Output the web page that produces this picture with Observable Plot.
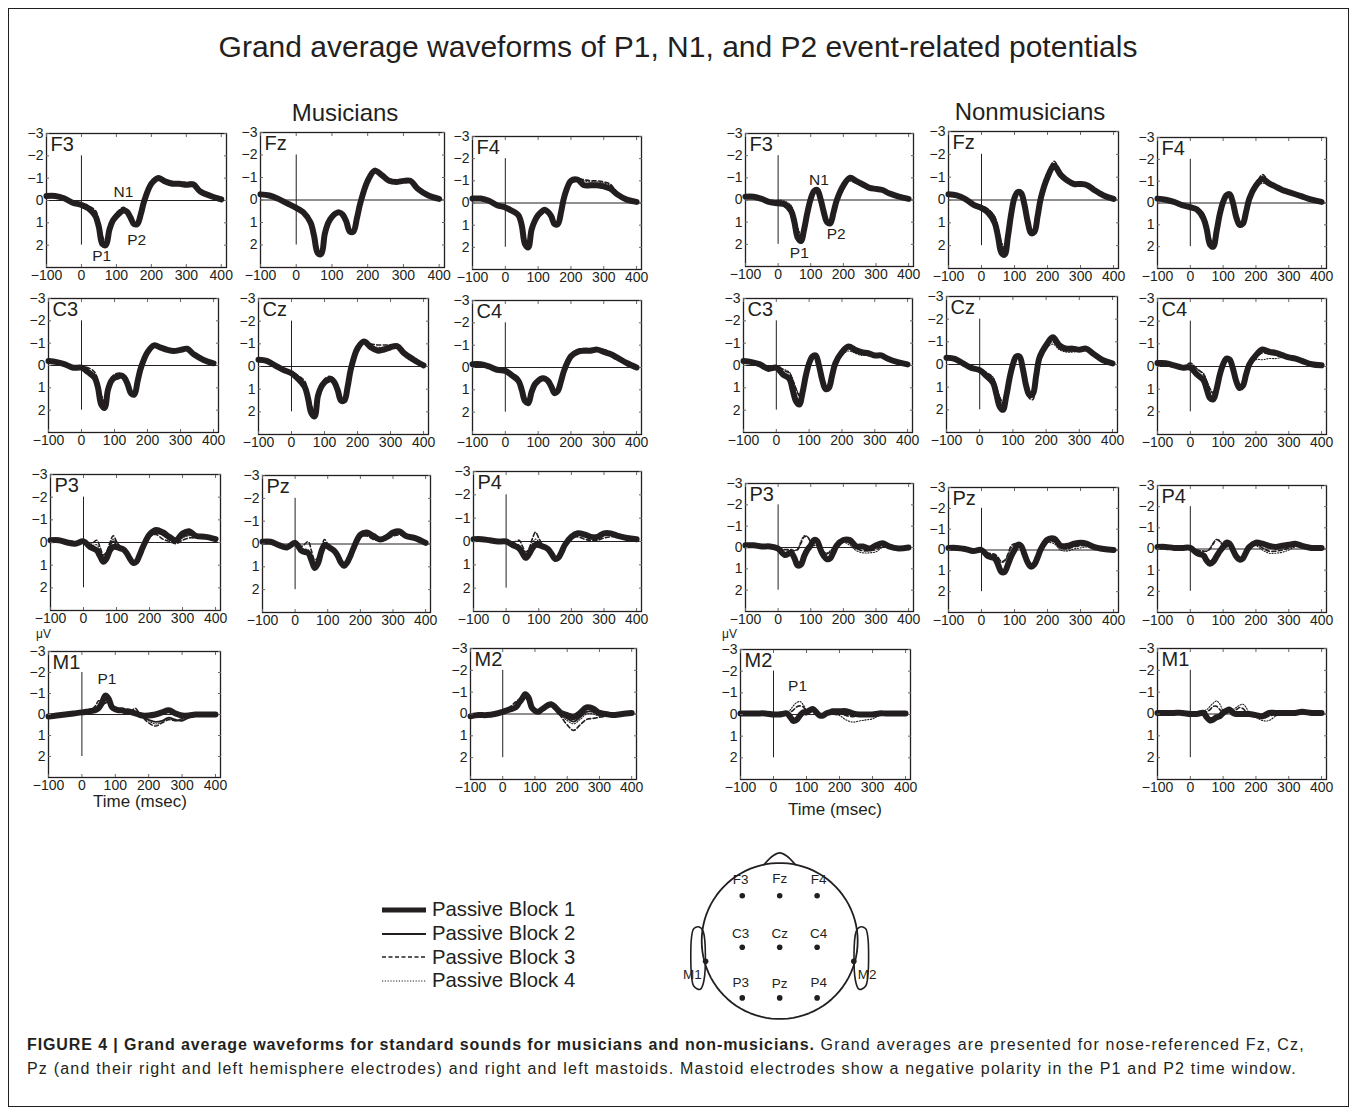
<!DOCTYPE html>
<html><head><meta charset="utf-8">
<script src="https://cdn.jsdelivr.net/npm/d3@7"></script>
<script src="https://cdn.jsdelivr.net/npm/@observablehq/plot@0.6"></script>
<style>
body{margin:0;background:#fff;font-family:"Liberation Sans",Arial,Helvetica,sans-serif;color:#231f20}
#fig{position:relative;width:1356px;height:1114px;overflow:hidden;background:#fff}
.abs{position:absolute;white-space:nowrap;line-height:1}
#frame{position:absolute;left:8px;top:8px;width:1341px;height:1099px;border:1px solid #231f20;box-sizing:border-box}
.caption{position:absolute;left:27px;font-size:16px;letter-spacing:1.2px;color:#231f20;white-space:nowrap;line-height:1}
.caption b{letter-spacing:0.9px}
</style></head>
<body><div id="fig"><div id="frame"></div></div>
<script>
// ---------- DATA ----------
const times = [-100,-75,-50,-25,0,20,40,50,60,70,80,90,100,110,120,130,140,150,160,170,180,200,220,240,260,280,300,320,340,370,400];
const xTicks = [-100,0,100,200,300,400];
const yTicks = [-3,-2,-1,0,1,2];
const blockNames = ["Passive Block 1","Passive Block 2","Passive Block 3","Passive Block 4"];

// Musicians (each: [block1, block2, block3, block4], µV, positive = down)
const musF3 = [
 [-0.2,-0.2,-0.1,0.1,0.2,0.35,0.7,1.2,1.95,2.0,1.3,0.9,0.7,0.55,0.45,0.5,0.75,1.05,1.05,0.6,0.0,-0.75,-1.0,-0.85,-0.75,-0.75,-0.7,-0.72,-0.4,-0.2,-0.05],
 [-0.2,-0.2,-0.1,0.1,0.2,0.3,0.6,1.1,1.8,1.9,1.25,0.85,0.65,0.5,0.4,0.45,0.7,1.0,1.0,0.55,-0.05,-0.8,-1.05,-0.9,-0.8,-0.75,-0.75,-0.75,-0.45,-0.2,-0.05],
 [-0.2,-0.2,-0.1,0.1,0.15,0.25,0.45,0.9,1.6,1.85,1.3,0.8,0.55,0.4,0.3,0.4,0.7,1.0,1.0,0.5,-0.1,-0.85,-1.1,-0.9,-0.85,-0.8,-0.8,-0.8,-0.5,-0.25,-0.05],
 [-0.2,-0.2,-0.1,0.1,0.15,0.3,0.55,1.0,1.7,1.9,1.3,0.85,0.6,0.45,0.35,0.45,0.7,1.0,1.0,0.5,-0.1,-0.85,-1.1,-0.95,-0.85,-0.8,-0.8,-0.75,-0.45,-0.25,-0.05]];
const musFz = [
 [-0.25,-0.2,-0.05,0.15,0.35,0.55,1.0,1.6,2.35,2.4,1.5,1.0,0.75,0.6,0.55,0.65,0.95,1.4,1.4,0.8,0.1,-0.85,-1.3,-1.1,-0.85,-0.8,-0.85,-0.85,-0.5,-0.2,-0.05],
 [-0.25,-0.2,-0.05,0.15,0.3,0.5,0.9,1.5,2.2,2.3,1.45,0.95,0.7,0.55,0.5,0.6,0.9,1.35,1.35,0.75,0.05,-0.9,-1.3,-1.1,-0.9,-0.85,-0.85,-0.85,-0.5,-0.2,-0.05],
 [-0.25,-0.2,-0.05,0.15,0.3,0.45,0.85,1.4,2.1,2.3,1.5,0.95,0.7,0.55,0.5,0.6,0.9,1.3,1.3,0.7,0.0,-0.95,-1.4,-1.15,-0.95,-0.9,-0.9,-0.9,-0.55,-0.25,-0.05],
 [-0.25,-0.2,-0.05,0.15,0.3,0.5,0.9,1.45,2.2,2.35,1.5,0.95,0.7,0.55,0.5,0.6,0.9,1.35,1.35,0.75,0.05,-0.9,-1.35,-1.1,-0.9,-0.85,-0.9,-0.85,-0.5,-0.2,-0.05]];
const musF4 = [
 [-0.2,-0.2,-0.1,0.1,0.2,0.35,0.55,1.0,1.85,2.0,1.2,0.8,0.55,0.4,0.3,0.4,0.6,0.95,0.95,0.4,-0.3,-1.0,-1.05,-0.8,-0.8,-0.8,-0.75,-0.65,-0.4,-0.15,-0.05],
 [-0.2,-0.2,-0.1,0.1,0.2,0.3,0.5,0.95,1.75,1.9,1.2,0.8,0.5,0.35,0.3,0.4,0.6,1.0,1.0,0.45,-0.2,-0.9,-1.0,-0.85,-0.8,-0.8,-0.75,-0.65,-0.4,-0.15,-0.05],
 [-0.2,-0.2,-0.1,0.1,0.2,0.3,0.5,0.9,1.7,1.9,1.2,0.8,0.5,0.35,0.3,0.4,0.65,1.05,1.0,0.4,-0.2,-0.9,-1.1,-1.05,-1.0,-1.0,-0.95,-0.85,-0.5,-0.2,-0.05],
 [-0.2,-0.2,-0.1,0.1,0.2,0.3,0.5,0.95,1.75,1.95,1.2,0.8,0.5,0.35,0.3,0.4,0.6,1.0,1.0,0.45,-0.25,-0.95,-1.1,-1.0,-0.95,-0.95,-0.9,-0.8,-0.5,-0.2,-0.05]];
const musC3 = [
 [-0.2,-0.15,-0.05,0.1,0.1,0.3,0.55,1.0,1.75,1.9,1.1,0.7,0.55,0.5,0.45,0.55,0.85,1.25,1.3,0.7,0.1,-0.6,-0.9,-0.8,-0.7,-0.65,-0.7,-0.75,-0.5,-0.25,-0.1],
 [-0.2,-0.15,-0.05,0.1,0.1,0.25,0.45,0.9,1.6,1.8,1.05,0.65,0.5,0.45,0.4,0.5,0.85,1.25,1.3,0.7,0.05,-0.65,-0.9,-0.8,-0.7,-0.65,-0.7,-0.75,-0.5,-0.25,-0.1],
 [-0.2,-0.15,-0.05,0.1,0.05,0.1,0.3,0.7,1.35,1.6,1.0,0.55,0.4,0.35,0.35,0.45,0.8,1.2,1.25,0.65,0.0,-0.7,-0.95,-0.85,-0.75,-0.7,-0.75,-0.8,-0.55,-0.3,-0.1],
 [-0.2,-0.15,-0.05,0.1,0.1,0.2,0.4,0.8,1.5,1.7,1.05,0.6,0.45,0.4,0.4,0.5,0.8,1.2,1.25,0.65,0.0,-0.7,-0.95,-0.85,-0.75,-0.7,-0.7,-0.75,-0.5,-0.25,-0.1]];
const musCz = [
 [-0.3,-0.25,-0.05,0.15,0.3,0.55,0.9,1.4,2.05,2.2,1.3,0.9,0.7,0.6,0.55,0.7,1.05,1.5,1.5,0.9,0.1,-0.8,-1.1,-0.85,-0.7,-0.75,-0.85,-0.9,-0.6,-0.3,-0.05],
 [-0.3,-0.25,-0.05,0.15,0.3,0.5,0.8,1.3,1.9,2.1,1.3,0.85,0.65,0.55,0.5,0.65,1.0,1.45,1.5,0.85,0.05,-0.85,-1.1,-0.9,-0.75,-0.8,-0.85,-0.9,-0.6,-0.3,-0.05],
 [-0.3,-0.25,-0.05,0.15,0.25,0.4,0.65,1.1,1.7,2.0,1.3,0.8,0.55,0.45,0.45,0.6,1.0,1.45,1.5,0.85,0.0,-0.9,-1.15,-1.0,-0.95,-0.95,-0.95,-0.95,-0.65,-0.3,-0.05],
 [-0.3,-0.25,-0.05,0.15,0.25,0.45,0.75,1.2,1.8,2.05,1.3,0.85,0.6,0.5,0.5,0.65,1.0,1.45,1.5,0.85,0.0,-0.9,-1.1,-0.95,-0.85,-0.85,-0.9,-0.9,-0.6,-0.3,-0.05]];
const musC4 = [
 [-0.15,-0.15,-0.05,0.1,0.15,0.35,0.6,1.0,1.5,1.6,1.1,0.75,0.6,0.5,0.5,0.6,0.85,1.15,1.05,0.6,0.1,-0.5,-0.7,-0.75,-0.75,-0.8,-0.7,-0.6,-0.45,-0.2,0.0],
 [-0.15,-0.15,-0.05,0.1,0.15,0.3,0.55,0.95,1.4,1.55,1.05,0.7,0.55,0.45,0.45,0.55,0.8,1.1,1.05,0.6,0.1,-0.5,-0.75,-0.8,-0.8,-0.8,-0.75,-0.65,-0.45,-0.2,0.0],
 [-0.15,-0.15,-0.05,0.1,0.1,0.25,0.45,0.85,1.3,1.5,1.05,0.7,0.5,0.4,0.4,0.5,0.8,1.1,1.0,0.55,0.05,-0.55,-0.8,-0.85,-0.85,-0.85,-0.8,-0.7,-0.5,-0.25,0.0],
 [-0.15,-0.15,-0.05,0.1,0.15,0.3,0.5,0.9,1.35,1.5,1.05,0.7,0.55,0.45,0.45,0.55,0.8,1.1,1.0,0.55,0.05,-0.55,-0.75,-0.85,-0.8,-0.85,-0.8,-0.65,-0.45,-0.2,0.0]];
const musP3 = [
 [-0.1,-0.1,0.0,0.05,-0.05,0.2,0.35,0.6,0.85,0.7,0.35,0.2,0.2,0.25,0.3,0.45,0.7,0.9,0.85,0.55,0.2,-0.35,-0.55,-0.45,-0.25,-0.1,-0.4,-0.5,-0.3,-0.25,-0.15],
 [-0.1,-0.1,0.0,0.05,-0.05,0.2,0.3,0.5,0.7,0.5,0.15,-0.05,0.1,0.2,0.3,0.45,0.7,0.85,0.8,0.5,0.2,-0.25,-0.4,-0.35,-0.2,-0.1,-0.25,-0.35,-0.25,-0.2,-0.1],
 [-0.1,-0.1,0.0,0.05,-0.05,0.1,-0.1,0.2,0.55,0.4,0.0,-0.3,-0.05,0.15,0.25,0.4,0.65,0.8,0.75,0.4,0.1,-0.3,-0.35,-0.15,-0.05,0.05,-0.1,-0.2,-0.2,-0.2,-0.15],
 [-0.1,-0.1,0.0,0.05,-0.05,0.15,0.1,0.35,0.6,0.45,0.1,-0.15,0.0,0.15,0.25,0.4,0.65,0.8,0.75,0.45,0.15,-0.3,-0.45,-0.3,-0.1,0.0,-0.2,-0.3,-0.25,-0.2,-0.1]];
const musPz = [
 [-0.1,-0.1,0.05,0.15,-0.05,0.3,0.4,0.7,1.05,0.85,0.35,0.05,0.1,0.2,0.3,0.5,0.8,0.95,0.8,0.5,0.15,-0.4,-0.5,-0.35,-0.2,-0.3,-0.5,-0.55,-0.35,-0.25,-0.05],
 [-0.1,-0.1,0.05,0.15,-0.05,0.25,0.35,0.55,0.85,0.7,0.25,-0.05,0.05,0.2,0.3,0.5,0.75,0.9,0.8,0.45,0.1,-0.35,-0.45,-0.3,-0.2,-0.25,-0.4,-0.45,-0.3,-0.2,-0.05],
 [-0.1,-0.1,0.05,0.15,-0.05,0.1,-0.1,0.3,0.7,0.6,0.2,-0.2,0.0,0.15,0.25,0.45,0.75,0.9,0.8,0.4,0.05,-0.3,-0.35,-0.2,-0.15,-0.2,-0.35,-0.4,-0.3,-0.2,-0.05],
 [-0.1,-0.1,0.05,0.15,-0.05,0.2,0.25,0.5,0.8,0.65,0.25,-0.05,0.05,0.2,0.3,0.5,0.75,0.9,0.8,0.45,0.1,-0.35,-0.4,-0.25,-0.15,-0.25,-0.45,-0.5,-0.3,-0.2,-0.05]];
const musP4 = [
 [-0.1,-0.1,-0.05,0.0,0.0,0.15,0.3,0.5,0.7,0.55,0.3,0.15,0.15,0.2,0.25,0.35,0.55,0.75,0.7,0.45,0.15,-0.2,-0.35,-0.3,-0.2,-0.2,-0.35,-0.35,-0.25,-0.15,-0.1],
 [-0.1,-0.1,-0.05,0.0,0.0,0.15,0.25,0.45,0.6,0.45,0.2,0.05,0.1,0.2,0.25,0.35,0.55,0.7,0.65,0.4,0.15,-0.15,-0.3,-0.25,-0.2,-0.2,-0.3,-0.3,-0.2,-0.15,-0.1],
 [-0.1,-0.1,-0.05,0.0,0.0,0.05,-0.05,0.2,0.45,0.3,-0.1,-0.4,-0.15,0.1,0.2,0.3,0.5,0.65,0.6,0.35,0.1,-0.15,-0.2,-0.1,-0.05,-0.05,-0.15,-0.2,-0.2,-0.15,-0.1],
 [-0.1,-0.1,-0.05,0.0,0.0,0.1,0.15,0.35,0.55,0.4,0.1,-0.1,0.0,0.15,0.25,0.35,0.5,0.7,0.65,0.4,0.15,-0.15,-0.3,-0.25,-0.15,-0.15,-0.25,-0.3,-0.2,-0.15,-0.1]];
const musM1 = [
 [0.1,0.05,0.0,-0.05,-0.1,-0.15,-0.2,-0.3,-0.55,-0.9,-0.75,-0.35,-0.25,-0.2,-0.2,-0.15,-0.15,-0.1,-0.05,0.0,0.05,0.05,0.0,-0.1,-0.2,-0.05,0.05,0.05,0.0,0.0,0.0],
 [0.1,0.05,0.0,-0.05,-0.1,-0.15,-0.2,-0.35,-0.45,-0.55,-0.6,-0.35,-0.25,-0.2,-0.2,-0.15,-0.15,-0.1,-0.05,0.05,0.1,0.25,0.35,0.3,0.15,0.25,0.3,0.15,0.05,0.0,0.0],
 [0.1,0.05,0.0,-0.05,-0.1,-0.15,-0.4,-0.65,-0.6,-0.55,-0.8,-0.4,-0.25,-0.2,-0.2,-0.2,-0.15,-0.2,-0.3,-0.1,0.1,0.4,0.55,0.4,0.25,0.3,0.2,0.1,0.05,0.0,0.0],
 [0.1,0.05,0.0,-0.05,-0.1,-0.15,-0.25,-0.4,-0.5,-0.7,-0.8,-0.4,-0.25,-0.2,-0.2,-0.15,-0.15,-0.1,-0.1,0.0,0.1,0.3,0.45,0.35,0.2,0.3,0.25,0.1,0.05,0.0,0.0]];
const musM2 = [
 [0.1,0.05,0.05,0.0,-0.1,-0.2,-0.3,-0.5,-0.7,-0.9,-0.75,-0.3,-0.15,-0.1,-0.2,-0.3,-0.4,-0.45,-0.35,-0.2,-0.05,0.05,0.15,-0.05,-0.3,-0.25,-0.05,0.0,0.05,0.0,-0.05],
 [0.1,0.05,0.05,0.0,-0.1,-0.2,-0.3,-0.45,-0.6,-0.75,-0.65,-0.3,-0.15,-0.1,-0.2,-0.3,-0.4,-0.4,-0.3,-0.15,0.0,0.2,0.35,0.15,-0.1,-0.1,0.05,0.05,0.05,0.0,-0.05],
 [0.1,0.05,0.05,0.0,-0.1,-0.3,-0.55,-0.65,-0.6,-0.8,-0.7,-0.3,-0.15,-0.1,-0.2,-0.3,-0.4,-0.4,-0.3,-0.1,0.1,0.5,0.75,0.5,0.25,0.2,0.15,0.1,0.05,0.0,-0.05],
 [0.1,0.05,0.05,0.0,-0.1,-0.2,-0.35,-0.5,-0.65,-0.85,-0.7,-0.3,-0.15,-0.1,-0.2,-0.3,-0.4,-0.4,-0.3,-0.15,0.05,0.3,0.45,0.25,0.0,0.0,0.1,0.05,0.05,0.0,-0.05]];

// Nonmusicians
const nonF3 = [
 [-0.15,-0.15,-0.05,0.1,0.15,0.2,0.5,1.0,1.7,1.85,1.3,0.55,-0.05,-0.4,-0.45,-0.05,0.55,1.0,1.05,0.55,0.0,-0.65,-1.0,-0.85,-0.7,-0.55,-0.5,-0.45,-0.3,-0.15,-0.05],
 [-0.15,-0.15,-0.05,0.1,0.15,0.2,0.45,0.9,1.6,1.8,1.25,0.5,-0.05,-0.35,-0.4,0.0,0.55,1.0,1.0,0.5,-0.05,-0.7,-0.95,-0.8,-0.65,-0.5,-0.45,-0.4,-0.3,-0.15,-0.05],
 [-0.15,-0.15,-0.05,0.1,0.05,0.1,0.3,0.7,1.3,1.6,1.2,0.5,-0.05,-0.35,-0.4,0.0,0.55,0.95,1.0,0.5,-0.1,-0.75,-1.1,-0.85,-0.7,-0.55,-0.5,-0.45,-0.3,-0.15,-0.05],
 [-0.15,-0.15,-0.05,0.1,0.0,0.05,0.25,0.65,1.25,1.55,1.15,0.5,-0.05,-0.35,-0.4,0.0,0.5,0.95,1.0,0.5,-0.1,-0.7,-0.85,-0.75,-0.65,-0.55,-0.5,-0.45,-0.3,-0.15,-0.05]];
const nonFz = [
 [-0.25,-0.2,-0.05,0.2,0.35,0.55,1.0,1.6,2.3,2.4,1.6,0.6,-0.1,-0.35,-0.3,0.2,0.95,1.45,1.4,0.7,-0.1,-1.0,-1.5,-1.1,-0.85,-0.7,-0.7,-0.65,-0.45,-0.2,-0.05],
 [-0.25,-0.2,-0.05,0.2,0.3,0.5,0.9,1.5,2.2,2.35,1.6,0.6,-0.1,-0.35,-0.3,0.2,0.9,1.4,1.4,0.7,-0.1,-1.0,-1.45,-1.1,-0.85,-0.7,-0.7,-0.65,-0.45,-0.2,-0.05],
 [-0.25,-0.2,-0.05,0.2,0.25,0.4,0.75,1.3,1.9,2.2,1.6,0.65,-0.05,-0.3,-0.3,0.2,0.9,1.35,1.35,0.65,-0.15,-1.1,-1.7,-1.2,-0.9,-0.75,-0.7,-0.65,-0.45,-0.2,-0.05],
 [-0.25,-0.2,-0.05,0.2,0.25,0.4,0.7,1.2,1.8,2.1,1.55,0.65,-0.05,-0.3,-0.3,0.2,0.9,1.35,1.35,0.65,-0.15,-1.05,-1.6,-1.15,-0.85,-0.7,-0.7,-0.65,-0.45,-0.2,-0.05]];
const nonF4 = [
 [-0.2,-0.15,-0.05,0.1,0.2,0.3,0.7,1.2,1.9,2.0,1.3,0.5,-0.05,-0.35,-0.4,0.0,0.65,1.0,0.95,0.4,-0.2,-0.8,-1.1,-0.9,-0.75,-0.6,-0.5,-0.4,-0.3,-0.15,-0.05],
 [-0.2,-0.15,-0.05,0.1,0.2,0.3,0.65,1.1,1.8,1.95,1.3,0.5,-0.05,-0.35,-0.4,0.0,0.6,1.0,0.95,0.4,-0.2,-0.8,-1.05,-0.85,-0.7,-0.6,-0.5,-0.4,-0.3,-0.15,-0.05],
 [-0.2,-0.15,-0.05,0.1,0.1,0.2,0.5,0.95,1.6,1.85,1.3,0.55,0.0,-0.3,-0.35,0.0,0.6,0.95,0.9,0.35,-0.25,-0.85,-1.3,-0.95,-0.75,-0.6,-0.5,-0.4,-0.3,-0.15,-0.05],
 [-0.2,-0.15,-0.05,0.1,0.1,0.2,0.45,0.9,1.55,1.8,1.25,0.5,0.0,-0.3,-0.35,0.0,0.6,0.95,0.9,0.35,-0.2,-0.7,-0.9,-0.8,-0.7,-0.6,-0.5,-0.4,-0.3,-0.15,-0.05]];
const nonC3 = [
 [-0.2,-0.15,-0.05,0.15,0.1,0.4,0.6,1.1,1.6,1.75,1.2,0.45,-0.1,-0.4,-0.45,0.0,0.65,1.05,1.0,0.45,-0.1,-0.6,-0.85,-0.7,-0.6,-0.55,-0.45,-0.45,-0.3,-0.15,-0.05],
 [-0.2,-0.15,-0.05,0.15,0.1,0.35,0.55,1.0,1.5,1.65,1.15,0.45,-0.1,-0.4,-0.4,0.0,0.6,1.0,1.0,0.45,-0.1,-0.6,-0.8,-0.7,-0.55,-0.5,-0.45,-0.45,-0.3,-0.15,-0.05],
 [-0.2,-0.15,-0.05,0.15,0.0,0.2,0.35,0.65,1.05,1.35,1.1,0.45,-0.05,-0.35,-0.4,0.0,0.6,1.0,0.95,0.4,-0.1,-0.55,-0.75,-0.6,-0.5,-0.45,-0.4,-0.4,-0.3,-0.15,-0.05],
 [-0.2,-0.15,-0.05,0.15,0.0,0.15,0.3,0.6,1.0,1.3,1.05,0.45,-0.05,-0.35,-0.4,0.0,0.6,1.0,0.95,0.4,-0.05,-0.45,-0.65,-0.55,-0.45,-0.45,-0.4,-0.4,-0.3,-0.15,-0.05]];
const nonCz = [
 [-0.3,-0.25,-0.05,0.15,0.25,0.5,0.8,1.3,1.85,2.0,1.4,0.6,0.0,-0.35,-0.35,0.2,0.95,1.35,1.3,0.5,-0.3,-0.85,-1.2,-0.85,-0.7,-0.7,-0.65,-0.7,-0.5,-0.2,-0.05],
 [-0.3,-0.25,-0.05,0.15,0.25,0.45,0.75,1.2,1.75,1.95,1.4,0.6,0.0,-0.3,-0.35,0.2,0.95,1.4,1.35,0.55,-0.25,-0.85,-1.15,-0.8,-0.7,-0.65,-0.65,-0.65,-0.5,-0.2,-0.05],
 [-0.3,-0.25,-0.05,0.15,0.2,0.35,0.6,1.0,1.45,1.7,1.3,0.6,0.0,-0.3,-0.3,0.2,0.95,1.5,1.55,0.6,-0.25,-0.8,-1.0,-0.7,-0.6,-0.6,-0.6,-0.65,-0.45,-0.2,-0.05],
 [-0.3,-0.25,-0.05,0.15,0.2,0.35,0.55,0.95,1.4,1.65,1.3,0.6,0.0,-0.3,-0.3,0.2,0.9,1.35,1.35,0.55,-0.2,-0.7,-0.9,-0.65,-0.55,-0.55,-0.6,-0.6,-0.45,-0.2,-0.05]];
const nonC4 = [
 [-0.15,-0.15,-0.05,0.05,0.05,0.35,0.6,1.0,1.4,1.45,1.0,0.35,-0.1,-0.35,-0.3,0.1,0.65,0.95,0.85,0.35,-0.1,-0.5,-0.75,-0.65,-0.6,-0.5,-0.4,-0.35,-0.25,-0.1,-0.05],
 [-0.15,-0.15,-0.05,0.05,0.05,0.3,0.55,0.9,1.3,1.4,1.0,0.35,-0.1,-0.35,-0.3,0.1,0.6,0.9,0.85,0.35,-0.1,-0.5,-0.7,-0.6,-0.55,-0.5,-0.4,-0.35,-0.25,-0.1,-0.05],
 [-0.15,-0.15,-0.05,0.05,-0.15,0.1,0.35,0.65,1.0,1.2,0.95,0.35,-0.05,-0.3,-0.3,0.1,0.6,0.9,0.8,0.3,-0.05,-0.4,-0.6,-0.55,-0.5,-0.45,-0.4,-0.35,-0.25,-0.1,-0.05],
 [-0.15,-0.15,-0.05,0.05,-0.1,0.1,0.3,0.6,0.95,1.15,0.9,0.35,-0.05,-0.3,-0.3,0.1,0.6,0.9,0.8,0.3,-0.05,-0.3,-0.3,-0.35,-0.35,-0.4,-0.4,-0.35,-0.25,-0.1,-0.05]];
const nonP3 = [
 [-0.1,-0.1,-0.05,-0.05,0.05,0.35,0.25,0.5,0.85,0.8,0.4,0.1,-0.1,-0.35,-0.3,0.1,0.4,0.55,0.5,0.2,-0.1,-0.35,-0.35,-0.05,-0.05,0.05,-0.1,-0.2,-0.05,0.05,0.0],
 [-0.1,-0.1,-0.05,-0.05,0.05,0.3,0.25,0.45,0.7,0.65,0.3,0.05,-0.1,-0.3,-0.3,0.1,0.4,0.55,0.5,0.2,-0.1,-0.3,-0.3,-0.05,0.0,0.05,-0.05,-0.15,-0.05,0.05,0.0],
 [-0.1,-0.1,-0.05,-0.05,0.05,0.1,0.1,0.15,0.1,-0.2,-0.5,-0.5,-0.25,-0.1,-0.1,0.05,0.25,0.3,0.2,0.0,-0.15,-0.3,-0.2,0.05,0.15,0.15,0.1,-0.05,-0.05,0.05,0.0],
 [-0.1,-0.1,-0.05,-0.05,0.05,0.1,0.15,0.15,0.05,-0.3,-0.55,-0.5,-0.25,-0.1,-0.1,0.0,0.2,0.25,0.15,0.0,-0.15,-0.25,-0.1,0.15,0.25,0.25,0.2,0.0,-0.05,0.05,0.0]];
const nonPz = [
 [-0.1,-0.1,-0.05,0.05,0.0,0.3,0.4,0.7,1.05,1.05,0.7,0.3,0.0,-0.25,-0.2,0.2,0.6,0.8,0.7,0.35,-0.05,-0.5,-0.55,-0.2,-0.2,-0.3,-0.35,-0.3,-0.15,-0.05,0.0],
 [-0.1,-0.1,-0.05,0.05,0.0,0.3,0.35,0.6,0.9,0.95,0.65,0.3,0.0,-0.25,-0.2,0.15,0.55,0.75,0.7,0.35,-0.05,-0.45,-0.5,-0.2,-0.15,-0.25,-0.3,-0.3,-0.15,-0.05,0.0],
 [-0.1,-0.1,-0.05,0.05,0.0,0.15,0.2,0.35,0.55,0.5,0.2,-0.2,-0.3,-0.3,-0.2,0.15,0.5,0.7,0.6,0.3,-0.05,-0.4,-0.4,-0.1,-0.05,-0.15,-0.2,-0.2,-0.1,-0.05,0.0],
 [-0.1,-0.1,-0.05,0.05,0.0,0.15,0.25,0.4,0.6,0.55,0.25,-0.1,-0.25,-0.3,-0.2,0.15,0.5,0.7,0.6,0.3,-0.05,-0.35,-0.3,0.0,0.05,-0.05,-0.1,-0.15,-0.1,-0.05,0.0]];
const nonP4 = [
 [-0.1,-0.1,-0.05,-0.05,-0.05,0.2,0.3,0.55,0.7,0.6,0.35,0.1,-0.1,-0.3,-0.25,0.05,0.35,0.5,0.45,0.15,-0.1,-0.3,-0.25,-0.15,-0.1,-0.15,-0.2,-0.25,-0.15,-0.05,-0.05],
 [-0.1,-0.1,-0.05,-0.05,-0.05,0.2,0.25,0.45,0.6,0.5,0.3,0.1,-0.1,-0.25,-0.25,0.05,0.35,0.5,0.45,0.15,-0.1,-0.25,-0.2,-0.1,-0.1,-0.15,-0.2,-0.2,-0.15,-0.05,-0.05],
 [-0.1,-0.1,-0.05,-0.05,-0.05,0.05,0.1,0.1,0.0,-0.25,-0.45,-0.35,-0.15,-0.1,-0.15,0.05,0.3,0.4,0.35,0.1,-0.1,-0.2,-0.05,0.1,0.1,0.05,-0.05,-0.15,-0.1,-0.05,-0.05],
 [-0.1,-0.1,-0.05,-0.05,-0.05,0.05,0.1,0.1,-0.05,-0.3,-0.45,-0.4,-0.15,-0.1,-0.15,0.05,0.3,0.4,0.35,0.1,-0.1,-0.15,0.05,0.2,0.2,0.15,0.05,-0.1,-0.1,-0.05,-0.05]];
const nonM2 = [
 [-0.05,-0.05,-0.05,-0.05,0.0,0.0,-0.05,0.1,0.3,0.25,0.05,-0.1,-0.1,-0.2,-0.25,-0.1,0.05,0.05,-0.05,-0.1,-0.15,-0.15,-0.15,-0.05,0.0,0.0,0.0,-0.05,-0.05,-0.05,-0.05],
 [-0.05,-0.05,-0.05,-0.05,0.0,0.0,-0.05,0.05,0.2,0.15,0.0,-0.1,-0.1,-0.15,-0.2,-0.1,0.0,0.05,0.0,-0.05,-0.1,-0.1,-0.1,-0.05,0.0,0.0,0.0,-0.05,-0.05,-0.05,-0.05],
 [-0.05,-0.05,-0.05,-0.05,0.0,-0.1,-0.05,-0.1,-0.2,-0.35,-0.4,-0.35,-0.15,-0.1,-0.15,-0.1,-0.05,0.0,-0.05,-0.1,-0.1,-0.05,0.05,0.1,0.05,0.0,0.0,-0.05,-0.05,-0.05,-0.05],
 [-0.05,-0.05,-0.05,-0.05,0.0,-0.1,-0.1,-0.2,-0.4,-0.55,-0.6,-0.45,-0.2,-0.1,-0.15,-0.1,-0.05,0.0,-0.05,-0.05,0.0,0.05,0.25,0.35,0.3,0.25,0.2,0.05,-0.05,-0.05,-0.05]];
const nonM1 = [
 [-0.05,-0.05,-0.05,-0.05,0.0,0.0,-0.05,0.15,0.3,0.25,0.15,0.1,-0.05,-0.15,-0.2,-0.05,0.0,0.0,0.0,0.0,0.0,0.05,0.1,-0.05,-0.05,-0.05,-0.05,-0.05,-0.1,-0.05,-0.05],
 [-0.05,-0.05,-0.05,-0.05,0.0,0.0,-0.05,0.1,0.2,0.2,0.15,0.1,-0.05,-0.1,-0.15,-0.05,0.0,0.0,0.0,0.0,0.0,0.05,0.05,0.0,-0.05,-0.05,-0.05,-0.05,-0.1,-0.05,-0.05],
 [-0.05,-0.05,-0.05,-0.05,0.0,-0.05,-0.05,-0.1,-0.2,-0.35,-0.35,-0.2,-0.05,-0.05,-0.1,-0.15,-0.2,-0.3,-0.25,-0.1,0.0,0.1,0.2,0.1,0.0,-0.05,-0.05,-0.05,-0.1,-0.05,-0.05],
 [-0.05,-0.05,-0.05,-0.05,0.0,-0.1,-0.15,-0.2,-0.35,-0.5,-0.6,-0.45,-0.15,-0.05,-0.1,-0.2,-0.3,-0.4,-0.45,-0.3,-0.05,0.15,0.3,0.3,0.1,0.0,-0.05,-0.05,-0.1,-0.05,-0.05]];

// Peak annotations: [group, electrode, label, time, µV]
const annotations = [
 ["mus","F3","N1",120,-0.4],["mus","F3","P1",58,2.5],["mus","F3","P2",158,1.75],
 ["non","F3","N1",125,-0.9],["non","F3","P1",65,2.4],["non","F3","P2",178,1.55],
 ["mus","M1","P1",75,-1.7],["non","M2","P1",73,-1.3]
];

// Electrode map (schematic head, unit radius)
const electrodeNames = ["F3","Fz","F4","C3","Cz","C4","P3","Pz","P4","M1","M2"];
const electrodeX = [-0.48,0,0.48,-0.48,0,0.48,-0.48,0,0.48,-0.95,0.95];
const electrodeY = [0.58,0.58,0.58,-0.08,-0.08,-0.08,-0.73,-0.73,-0.73,-0.26,-0.26];
const labelX = [-0.5,0,0.5,-0.5,0,0.5,-0.5,0,0.5,-1.12,1.12];
const labelY = [0.78,0.8,0.78,0.1,0.1,0.1,-0.53,-0.55,-0.53,-0.43,-0.43];

// ---------- LAYOUT ----------
// [group, electrode, data, [boxLeft, boxTop, boxWidth, boxHeight]]
const layout = [
 ["mus","F3",musF3,[46,133,180,134]],
 ["mus","Fz",musFz,[260,132,184,135]],
 ["mus","F4",musF4,[472,136,169,133]],
 ["mus","C3",musC3,[48,298,170,134]],
 ["mus","Cz",musCz,[258,298,170,136]],
 ["mus","C4",musC4,[472,300,169,134]],
 ["mus","P3",musP3,[50,474,170,136]],
 ["mus","Pz",musPz,[262,475,168,137]],
 ["mus","P4",musP4,[473,471,168,140]],
 ["mus","M1",musM1,[48,651,172,126]],
 ["mus","M2",musM2,[470,648,166,131]],
 ["non","F3",nonF3,[745,133,168,133]],
 ["non","Fz",nonFz,[948,131,170,137]],
 ["non","F4",nonF4,[1157,137,169,131]],
 ["non","C3",nonC3,[743,298,169,134]],
 ["non","Cz",nonCz,[946,296,171,136]],
 ["non","C4",nonC4,[1157,298,169,136]],
 ["non","P3",nonP3,[745,483,168,128]],
 ["non","Pz",nonPz,[948,487,170,125]],
 ["non","P4",nonP4,[1157,485,169,127]],
 ["non","M2",nonM2,[740,649,170,130]],
 ["non","M1",nonM1,[1157,648,169,131]]
];

const ink = "#231f20";
const fig = document.getElementById("fig");
const fmt = d => d < 0 ? "\u2212" + Math.abs(d) : String(d);
const blockStyles = [
 {strokeWidth: 6},
 {strokeWidth: 1.8},
 {strokeWidth: 1.6, strokeDasharray: "4,2.5"},
 {strokeWidth: 1.1, strokeDasharray: "1.2,1.6"}
];

function addText(txt, x, y, size, {center=false, weight="normal"} = {}) {
  const d = document.createElement("div");
  d.className = "abs";
  d.textContent = txt;
  d.style.left = x + "px";
  d.style.top = (y - size * 0.55) + "px";
  d.style.fontSize = size + "px";
  d.style.fontWeight = weight;
  if (center) d.style.transform = "translateX(-50%)";
  fig.appendChild(d);
}

function drawPanel([group, name, series, [bx, by, bw, bh]]) {
  const mL = 28, mR = 6, mT = 10, mB = 22;
  const rows = series.flatMap((vals, b) => vals.map((v, i) => ({t: times[i], v, b})));
  const ann = annotations.filter(a => a[0] === group && a[1] === name);
  const marks = [
    Plot.ruleY([0], {stroke: ink, strokeWidth: 1}),
    Plot.ruleX([0], {y1: -2, y2: 2, stroke: ink, strokeWidth: 1}),
    ...[0, 1, 2, 3].map(b => Plot.line(rows.filter(r => r.b === b), {
      x: "t", y: "v", curve: "catmull-rom", stroke: ink,
      strokeLinejoin: "round", strokeLinecap: "round", ...blockStyles[b]
    })),
    Plot.frame({stroke: ink, strokeWidth: 1.3}),
    Plot.axisX({ticks: xTicks, tickSize: 0, tickPadding: 3, tickFormat: fmt, label: null, fill: ink, fontSize: 14}),
    Plot.axisX({ticks: xTicks, anchor: "bottom", tickSize: -3, tickFormat: () => "", label: null, stroke: "#666"}),
    Plot.axisX({ticks: xTicks, anchor: "top", tickSize: -3, tickFormat: () => "", label: null, stroke: "#666"}),
    Plot.axisY({ticks: yTicks, tickSize: 0, tickPadding: 3, tickFormat: fmt, label: null, fill: ink, fontSize: 14}),
    Plot.axisY({ticks: yTicks, anchor: "left", tickSize: -3, tickFormat: () => "", label: null, stroke: "#666"}),
    Plot.axisY({ticks: yTicks, anchor: "right", tickSize: -3, tickFormat: () => "", label: null, stroke: "#666"}),
    Plot.text([name], {frameAnchor: "top-left", dx: 4, dy: 3, text: d => d, fontSize: 20,
      textAnchor: "start", lineAnchor: "top", fill: ink}),
    Plot.text(ann, {x: a => a[3], y: a => a[4], text: a => a[2], fontSize: 15.5, fill: ink})
  ];
  const svg = Plot.plot({
    width: bw + mL + mR, height: bh + mT + mB,
    marginLeft: mL, marginRight: mR, marginTop: mT, marginBottom: mB,
    x: {domain: [-100, 415]},
    y: {domain: [3, -3]},
    style: {fontFamily: "'Liberation Sans', Arial, sans-serif", fontSize: "14px", color: ink,
      background: "transparent", overflow: "visible"},
    marks
  });
  svg.style.position = "absolute";
  svg.style.left = (bx - mL) + "px";
  svg.style.top = (by - mT) + "px";
  fig.appendChild(svg);
}

layout.forEach(drawPanel);

// Titles and axis labels
addText("Grand average waveforms of P1, N1, and P2 event-related potentials", 678, 48, 30, {center: true});
addText("Musicians", 345, 114, 24, {center: true});
addText("Nonmusicians", 1030, 113, 24, {center: true});
addText("\u03bcV", 36, 635, 12);
addText("\u03bcV", 722, 634.5, 12);
addText("Time (msec)", 140, 802, 17, {center: true});
addText("Time (msec)", 835, 810, 17, {center: true});

// Legend
const legend = document.createElement("div");
legend.style.position = "absolute";
legend.style.left = "380px";
legend.style.top = "898px";
blockNames.forEach((nm, i) => {
  const row = document.createElement("div");
  row.style.display = "flex";
  row.style.alignItems = "center";
  row.style.height = "23.7px";
  const st = blockStyles[i];
  row.innerHTML = `<svg width="48" height="10" style="margin-right:4px"><line x1="2" x2="46" y1="5" y2="5" stroke="${ink}" stroke-width="${Math.min(st.strokeWidth, 5)}" ${st.strokeDasharray ? `stroke-dasharray="${st.strokeDasharray}"` : ""}/></svg><span style="font-size:20.3px">${nm}</span>`;
  legend.appendChild(row);
});
fig.appendChild(legend);

// Head diagram
const u = 78;
const hx = [-1.4, 1.4], hy = [-1.1, 1.25];
const circlePts = d3.range(0, 361, 4).map(a => ({x: Math.cos(a * Math.PI / 180), y: Math.sin(a * Math.PI / 180)}));
const nose = [{x:-0.2,y:0.98},{x:-0.09,y:1.09},{x:0,y:1.13},{x:0.09,y:1.09},{x:0.2,y:0.98}];
const earL = [{x:-0.98,y:0.12},{x:-1.03,y:0.18},{x:-1.1,y:0.16},{x:-1.13,y:0.05},{x:-1.13,y:-0.45},{x:-1.1,y:-0.58},{x:-1.02,y:-0.62},{x:-0.97,y:-0.5}];
const earR = earL.map(p => ({x: -p.x, y: p.y}));
const elec = electrodeNames.map((n, i) => ({n, x: electrodeX[i], y: electrodeY[i], lx: labelX[i], ly: labelY[i]}));
const head = Plot.plot({
  width: (hx[1] - hx[0]) * u, height: (hy[1] - hy[0]) * u,
  margin: 0,
  x: {domain: hx, axis: null}, y: {domain: hy, axis: null},
  style: {fontFamily: "'Liberation Sans', Arial, sans-serif", background: "transparent", overflow: "visible"},
  marks: [
    Plot.line(earL, {x: "x", y: "y", stroke: ink, strokeWidth: 1.6, curve: "catmull-rom-closed", fill: "white"}),
    Plot.line(earR, {x: "x", y: "y", stroke: ink, strokeWidth: 1.6, curve: "catmull-rom-closed", fill: "white"}),
    Plot.line(circlePts, {x: "x", y: "y", stroke: ink, strokeWidth: 1.8}),
    Plot.line(nose, {x: "x", y: "y", stroke: ink, strokeWidth: 1.6, curve: "catmull-rom"}),
    Plot.dot(elec, {x: "x", y: "y", r: 2.8, fill: ink}),
    Plot.text(elec, {x: "lx", y: "ly", text: "n", fontSize: 13.5, fill: ink})
  ]
});
head.style.position = "absolute";
head.style.left = (779.5 - (0 - hx[0]) * u) + "px";
head.style.top = (940 - (hy[1] - 0) * u) + "px";
fig.appendChild(head);

// Caption
const cap1 = document.createElement("div");
cap1.className = "caption";
cap1.style.top = "1037px";
cap1.innerHTML = "<b>FIGURE 4 | Grand average waveforms for standard sounds for musicians and non-musicians.</b> Grand averages are presented for nose-referenced Fz, Cz,";
fig.appendChild(cap1);
const cap2 = document.createElement("div");
cap2.className = "caption";
cap2.style.top = "1061px";
cap2.textContent = "Pz (and their right and left hemisphere electrodes) and right and left mastoids. Mastoid electrodes show a negative polarity in the P1 and P2 time window.";
fig.appendChild(cap2);
</script>
</body></html>
